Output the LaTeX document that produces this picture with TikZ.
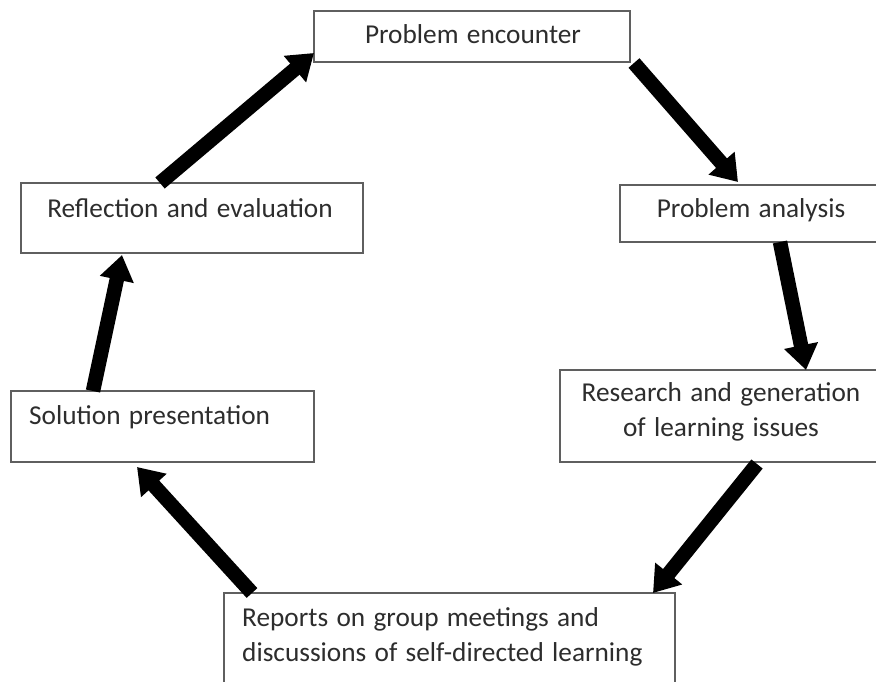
\documentclass[tikz,border=0pt]{standalone}
\usepackage{fontspec}
\setmainfont[WordSpace={1.35,0,0}]{Carlito}
\usetikzlibrary{arrows.meta}
\definecolor{txt}{RGB}{45,45,45}
\definecolor{brd}{RGB}{95,95,95}
\tikzset{
  box/.style={draw=brd, line width=1.2pt, anchor=north west, inner sep=0pt, outer sep=0pt},
  lbl/.style={font=\fontsize{27.3}{35}\selectfont, text=txt, inner sep=0pt},
  bigarrow/.style={line width=14.5pt, -{Triangle[width=33pt,length=25pt]}, black}
}
\begin{document}
\begin{tikzpicture}[x=1pt,y=-1pt]
\useasboundingbox (0,0) rectangle (876,681);
\clip (0,0) rectangle (876,681);
\fill[white] (0,0) rectangle (876,681);
% boxes
\node[box, minimum width=316pt, minimum height=51pt] (pe) at (314,11) {};
\node[box, minimum width=280pt, minimum height=57pt] (pa) at (620,185) {};
\node[box, minimum width=342pt, minimum height=70pt] (re) at (21,183) {};
\node[box, minimum width=340pt, minimum height=92pt] (rg) at (560,370) {};
\node[box, minimum width=303pt, minimum height=71pt] (sp) at (11,391) {};
\node[box, minimum width=451pt, minimum height=110pt] (rp) at (224,593) {};
% texts
\node[lbl, anchor=mid] (tpe) at (473,41) {Problem encounter};
\node[lbl, anchor=mid] (tre) at (190,215) {Reflection and evaluation};
\node[lbl, anchor=mid] (tpa) at (751,215) {Problem analysis};
\node[lbl, anchor=mid] (trg1) at (721,399) {Research and generation};
\node[lbl, anchor=mid] (trg2) at (721,434) {of learning issues};
\node[lbl, anchor=mid west] (tsp) at (29,422) {Solution presentation};
\node[lbl, anchor=mid west] (trp1) at (242,624) {Reports on group meetings and};
\node[lbl, anchor=mid west] (trp2) at (242,659) {discussions of self-directed learning};
% connector end points
\coordinate (a1s) at ([xshift=139pt]re.north west);
\coordinate (a1e) at ([yshift=9pt]pe.south west);
\coordinate (a2s) at ([xshift=4pt,yshift=-1pt]pe.south east);
\coordinate (a2e) at ([xshift=118pt,yshift=3pt]pa.north west);
\coordinate (a3s) at ([xshift=160pt]pa.south west);
\coordinate (a3e) at ([xshift=246pt]rg.north west);
\coordinate (a4s) at ([xshift=197pt,yshift=-2pt]rg.south west);
\coordinate (a4e) at ([xshift=429pt]rp.north west);
\coordinate (a5s) at ([xshift=28pt]rp.north west);
\coordinate (a5e) at ([xshift=126pt,yshift=-5pt]sp.south west);
\coordinate (a6s) at ([xshift=82pt]sp.north west);
\coordinate (a6e) at ([xshift=101pt,yshift=-2pt]re.south west);
% arrows
\draw[bigarrow] (a1s) -- (a1e);
\draw[bigarrow] (a2s) -- (a2e);
\draw[bigarrow] (a3s) -- (a3e);
\draw[bigarrow] (a4s) -- (a4e);
\draw[bigarrow] (a5s) -- (a5e);
\draw[bigarrow] (a6s) -- (a6e);
\end{tikzpicture}
\end{document}
